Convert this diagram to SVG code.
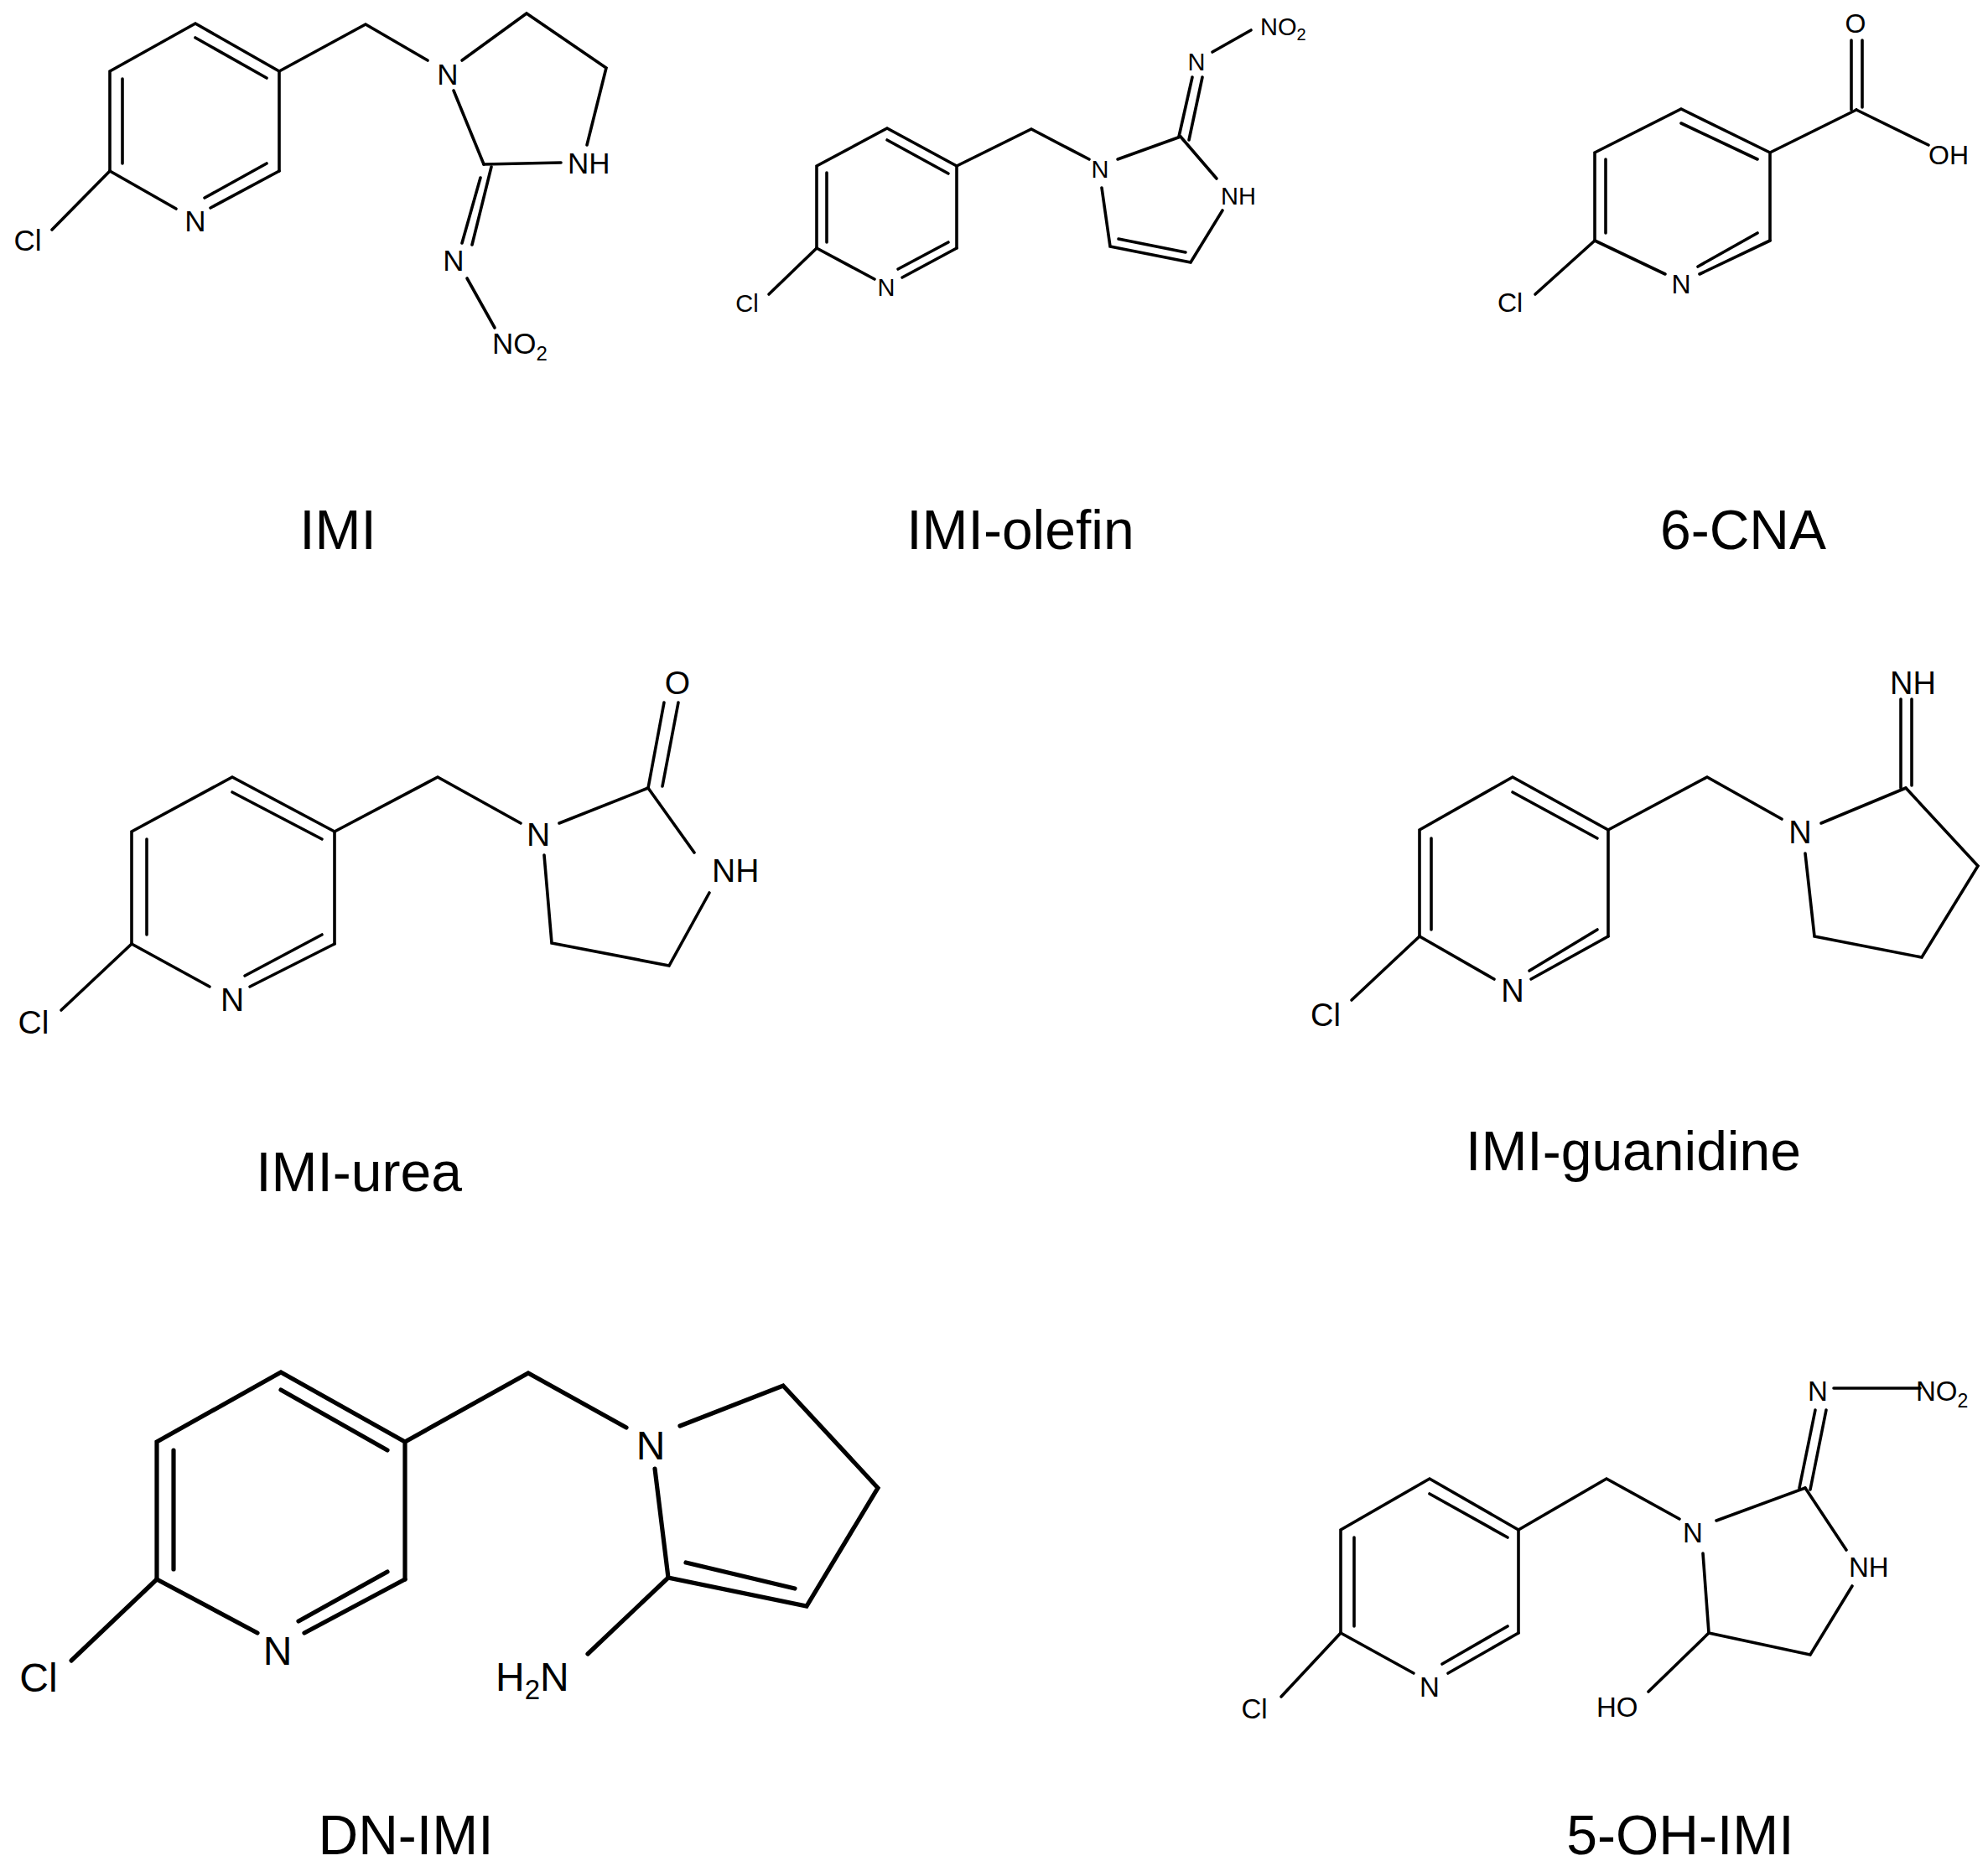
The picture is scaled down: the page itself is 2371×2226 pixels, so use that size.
<svg xmlns="http://www.w3.org/2000/svg" width="2371" height="2226" viewBox="0 0 2371 2226">
<style>
.b line,.b polyline{stroke:#000;stroke-width:3.6;fill:none;stroke-linecap:round}
.bb line,.bb polyline{stroke-width:5.2}
text{font-family:"Liberation Sans",Arial,sans-serif;fill:#000}
.c{text-anchor:middle}
.lab{font-size:66px;text-anchor:middle}
</style>
<rect width="2371" height="2226" fill="#fff"/>
<g id="IMI">
<g class="b">
<line x1="62" y1="274" x2="131" y2="204"/><line x1="131" y1="204" x2="210" y2="249"/>
<line x1="251" y1="248" x2="333" y2="204"/><line x1="244" y1="236" x2="318" y2="195"/>
<polyline points="333,204 333,85 233,28 131,85 131,204"/>
<line x1="318" y1="93" x2="233" y2="45"/><line x1="146" y1="94" x2="146" y2="195"/>
<polyline points="333,85 436,29 510,72"/>
<polyline points="551,72 628,16 723,81 700,173"/>
<line x1="669" y1="194" x2="577" y2="196"/><line x1="577" y1="196" x2="541" y2="108"/>
<line x1="586" y1="199" x2="563" y2="292"/><line x1="573" y1="212" x2="551" y2="290"/>
<line x1="557" y1="332" x2="590" y2="391"/>
</g>
<g font-size="35"><text x="33" y="299" class="c">Cl</text><text x="233" y="276" class="c">N</text><text x="534" y="101" class="c">N</text><text x="677" y="207">NH</text><text x="541" y="323" class="c">N</text><text x="587" y="422">NO<tspan font-size="24" dy="8">2</tspan></text></g>
<text x="403" y="655" class="lab">IMI</text>
</g>
<g id="IMI-olefin">
<g class="b">
<line x1="917" y1="351" x2="974" y2="296"/><line x1="974" y1="296" x2="1043" y2="333"/>
<line x1="1076" y1="331" x2="1141" y2="296"/><line x1="1071" y1="321" x2="1131" y2="289"/>
<polyline points="1141,296 1141,198 1058,153 974,198 974,296"/>
<line x1="1131" y1="207" x2="1058" y2="167"/><line x1="986" y1="206" x2="986" y2="289"/>
<polyline points="1141,198 1230,154 1299,190"/>
<line x1="1333" y1="190" x2="1408" y2="163"/><line x1="1408" y1="163" x2="1451" y2="213"/>
<polyline points="1458,251 1420,313 1324,294 1314,224"/>
<line x1="1334" y1="285" x2="1414" y2="301"/>
<line x1="1406" y1="163" x2="1422" y2="92"/><line x1="1418" y1="167" x2="1434" y2="92"/>
<line x1="1446" y1="62" x2="1492" y2="36"/>
</g>
<g font-size="29"><text x="891" y="372" class="c">Cl</text><text x="1057" y="353" class="c">N</text><text x="1312" y="212" class="c">N</text><text x="1456" y="244">NH</text><text x="1427" y="84" class="c">N</text><text x="1503" y="42">NO<tspan font-size="20" dy="6">2</tspan></text></g>
<text x="1217" y="655" class="lab">IMI-olefin</text>
</g>
<g id="CNA">
<g class="b">
<line x1="1831" y1="351" x2="1902" y2="287"/><line x1="1902" y1="287" x2="1986" y2="327"/>
<line x1="2027" y1="327" x2="2111" y2="287"/><line x1="2025" y1="318" x2="2096" y2="278"/>
<polyline points="2111,287 2111,182 2005,130 1902,182 1902,287"/>
<line x1="2096" y1="190" x2="2005" y2="147"/><line x1="1915" y1="190" x2="1915" y2="278"/>
<line x1="2111" y1="182" x2="2214" y2="131"/><line x1="2214" y1="131" x2="2300" y2="173"/>
<line x1="2208" y1="131" x2="2208" y2="48"/><line x1="2221" y1="128" x2="2221" y2="48"/>
</g>
<g font-size="32"><text x="1801" y="372" class="c">Cl</text><text x="2005" y="350" class="c">N</text><text x="2213" y="39" class="c">O</text><text x="2300" y="196">OH</text></g>
<text x="2079" y="655" class="lab">6-CNA</text>
</g>
<g id="IMI-urea">
<g class="b">
<line x1="73" y1="1205" x2="157" y2="1126"/><line x1="157" y1="1126" x2="250" y2="1177"/>
<line x1="298" y1="1177" x2="399" y2="1126"/><line x1="292" y1="1164" x2="384" y2="1115"/>
<polyline points="399,1126 399,992 277,927 157,992 157,1126"/>
<line x1="384" y1="1001" x2="277" y2="945"/><line x1="175" y1="1001" x2="175" y2="1115"/>
<polyline points="399,992 522,927 621,982"/>
<line x1="667" y1="982" x2="773" y2="940"/><line x1="773" y1="940" x2="828" y2="1017"/>
<polyline points="846,1065 798,1152 658,1125 649,1020"/>
<line x1="773" y1="940" x2="792" y2="838"/><line x1="790" y1="938" x2="809" y2="838"/>
</g>
<g font-size="39"><text x="40" y="1233" class="c">Cl</text><text x="277" y="1206" class="c">N</text><text x="642" y="1009" class="c">N</text><text x="849" y="1052">NH</text><text x="808" y="828" class="c">O</text></g>
<text x="428" y="1421" class="lab">IMI-urea</text>
</g>
<g id="IMI-guanidine">
<g class="b">
<line x1="1612" y1="1193" x2="1693" y2="1117"/><line x1="1693" y1="1117" x2="1782" y2="1168"/>
<line x1="1826" y1="1168" x2="1918" y2="1117"/><line x1="1824" y1="1158" x2="1905" y2="1109"/>
<polyline points="1918,1117 1918,990 1804,927 1693,990 1693,1117"/>
<line x1="1905" y1="1000" x2="1804" y2="945"/><line x1="1707" y1="1000" x2="1707" y2="1109"/>
<polyline points="1918,990 2036,927 2125,977"/>
<line x1="2172" y1="982" x2="2273" y2="940"/>
<polyline points="2273,940 2359,1033 2292,1142 2164,1117 2153,1018"/>
<line x1="2267" y1="940" x2="2267" y2="834"/><line x1="2280" y1="937" x2="2280" y2="834"/>
</g>
<g font-size="38"><text x="1581" y="1224" class="c">Cl</text><text x="1804" y="1195" class="c">N</text><text x="2147" y="1006" class="c">N</text><text x="2254" y="828">NH</text></g>
<text x="1948" y="1396" class="lab">IMI-guanidine</text>
</g>
<g id="DN-IMI">
<g class="b bb">
<line x1="85" y1="1981" x2="187" y2="1884"/><line x1="187" y1="1884" x2="307" y2="1948"/>
<line x1="363" y1="1948" x2="483" y2="1884"/><line x1="356" y1="1934" x2="462" y2="1875"/>
<polyline points="483,1884 483,1720 335,1637 187,1720 187,1884"/>
<line x1="462" y1="1730" x2="335" y2="1658"/><line x1="207" y1="1730" x2="207" y2="1872"/>
<polyline points="483,1720 630,1638 747,1703"/>
<polyline points="811,1701 934,1653 1047,1775 962,1916 797,1882 781,1752"/>
<line x1="818" y1="1864" x2="948" y2="1895"/>
<line x1="797" y1="1882" x2="701" y2="1973"/>
</g>
<g font-size="48"><text x="46" y="2018" class="c">Cl</text><text x="331" y="1986" class="c">N</text><text x="776" y="1741" class="c">N</text><text x="591" y="2017">H<tspan font-size="33" dy="10">2</tspan><tspan dy="-10">N</tspan></text></g>
<text x="484" y="2212" class="lab">DN-IMI</text>
</g>
<g id="OH-IMI">
<g class="b">
<line x1="1528" y1="2024" x2="1599" y2="1948"/><line x1="1599" y1="1948" x2="1686" y2="1996"/>
<line x1="1727" y1="1996" x2="1811" y2="1948"/><line x1="1720" y1="1985" x2="1798" y2="1940"/>
<polyline points="1811,1948 1811,1825 1705,1764 1599,1825 1599,1948"/>
<line x1="1798" y1="1834" x2="1705" y2="1782"/><line x1="1615" y1="1834" x2="1615" y2="1940"/>
<polyline points="1811,1825 1916,1764 2003,1812"/>
<line x1="2047" y1="1814" x2="2153" y2="1775"/><line x1="2153" y1="1775" x2="2202" y2="1849"/>
<polyline points="2209,1892 2159,1974 2038,1948 2031,1853"/>
<line x1="2038" y1="1948" x2="1966" y2="2018"/>
<line x1="2146" y1="1775" x2="2165" y2="1682"/><line x1="2159" y1="1777" x2="2178" y2="1682"/>
<line x1="2187" y1="1656" x2="2290" y2="1656"/>
</g>
<g font-size="33"><text x="1496" y="2050" class="c">Cl</text><text x="1705" y="2024" class="c">N</text><text x="2019" y="1840" class="c">N</text><text x="2205" y="1881">NH</text><text x="1904" y="2048">HO</text><text x="2168" y="1671" class="c">N</text><text x="2285" y="1671">NO<tspan font-size="23" dy="8">2</tspan></text></g>
<text x="2004" y="2212" class="lab">5-OH-IMI</text>
</g>
</svg>
